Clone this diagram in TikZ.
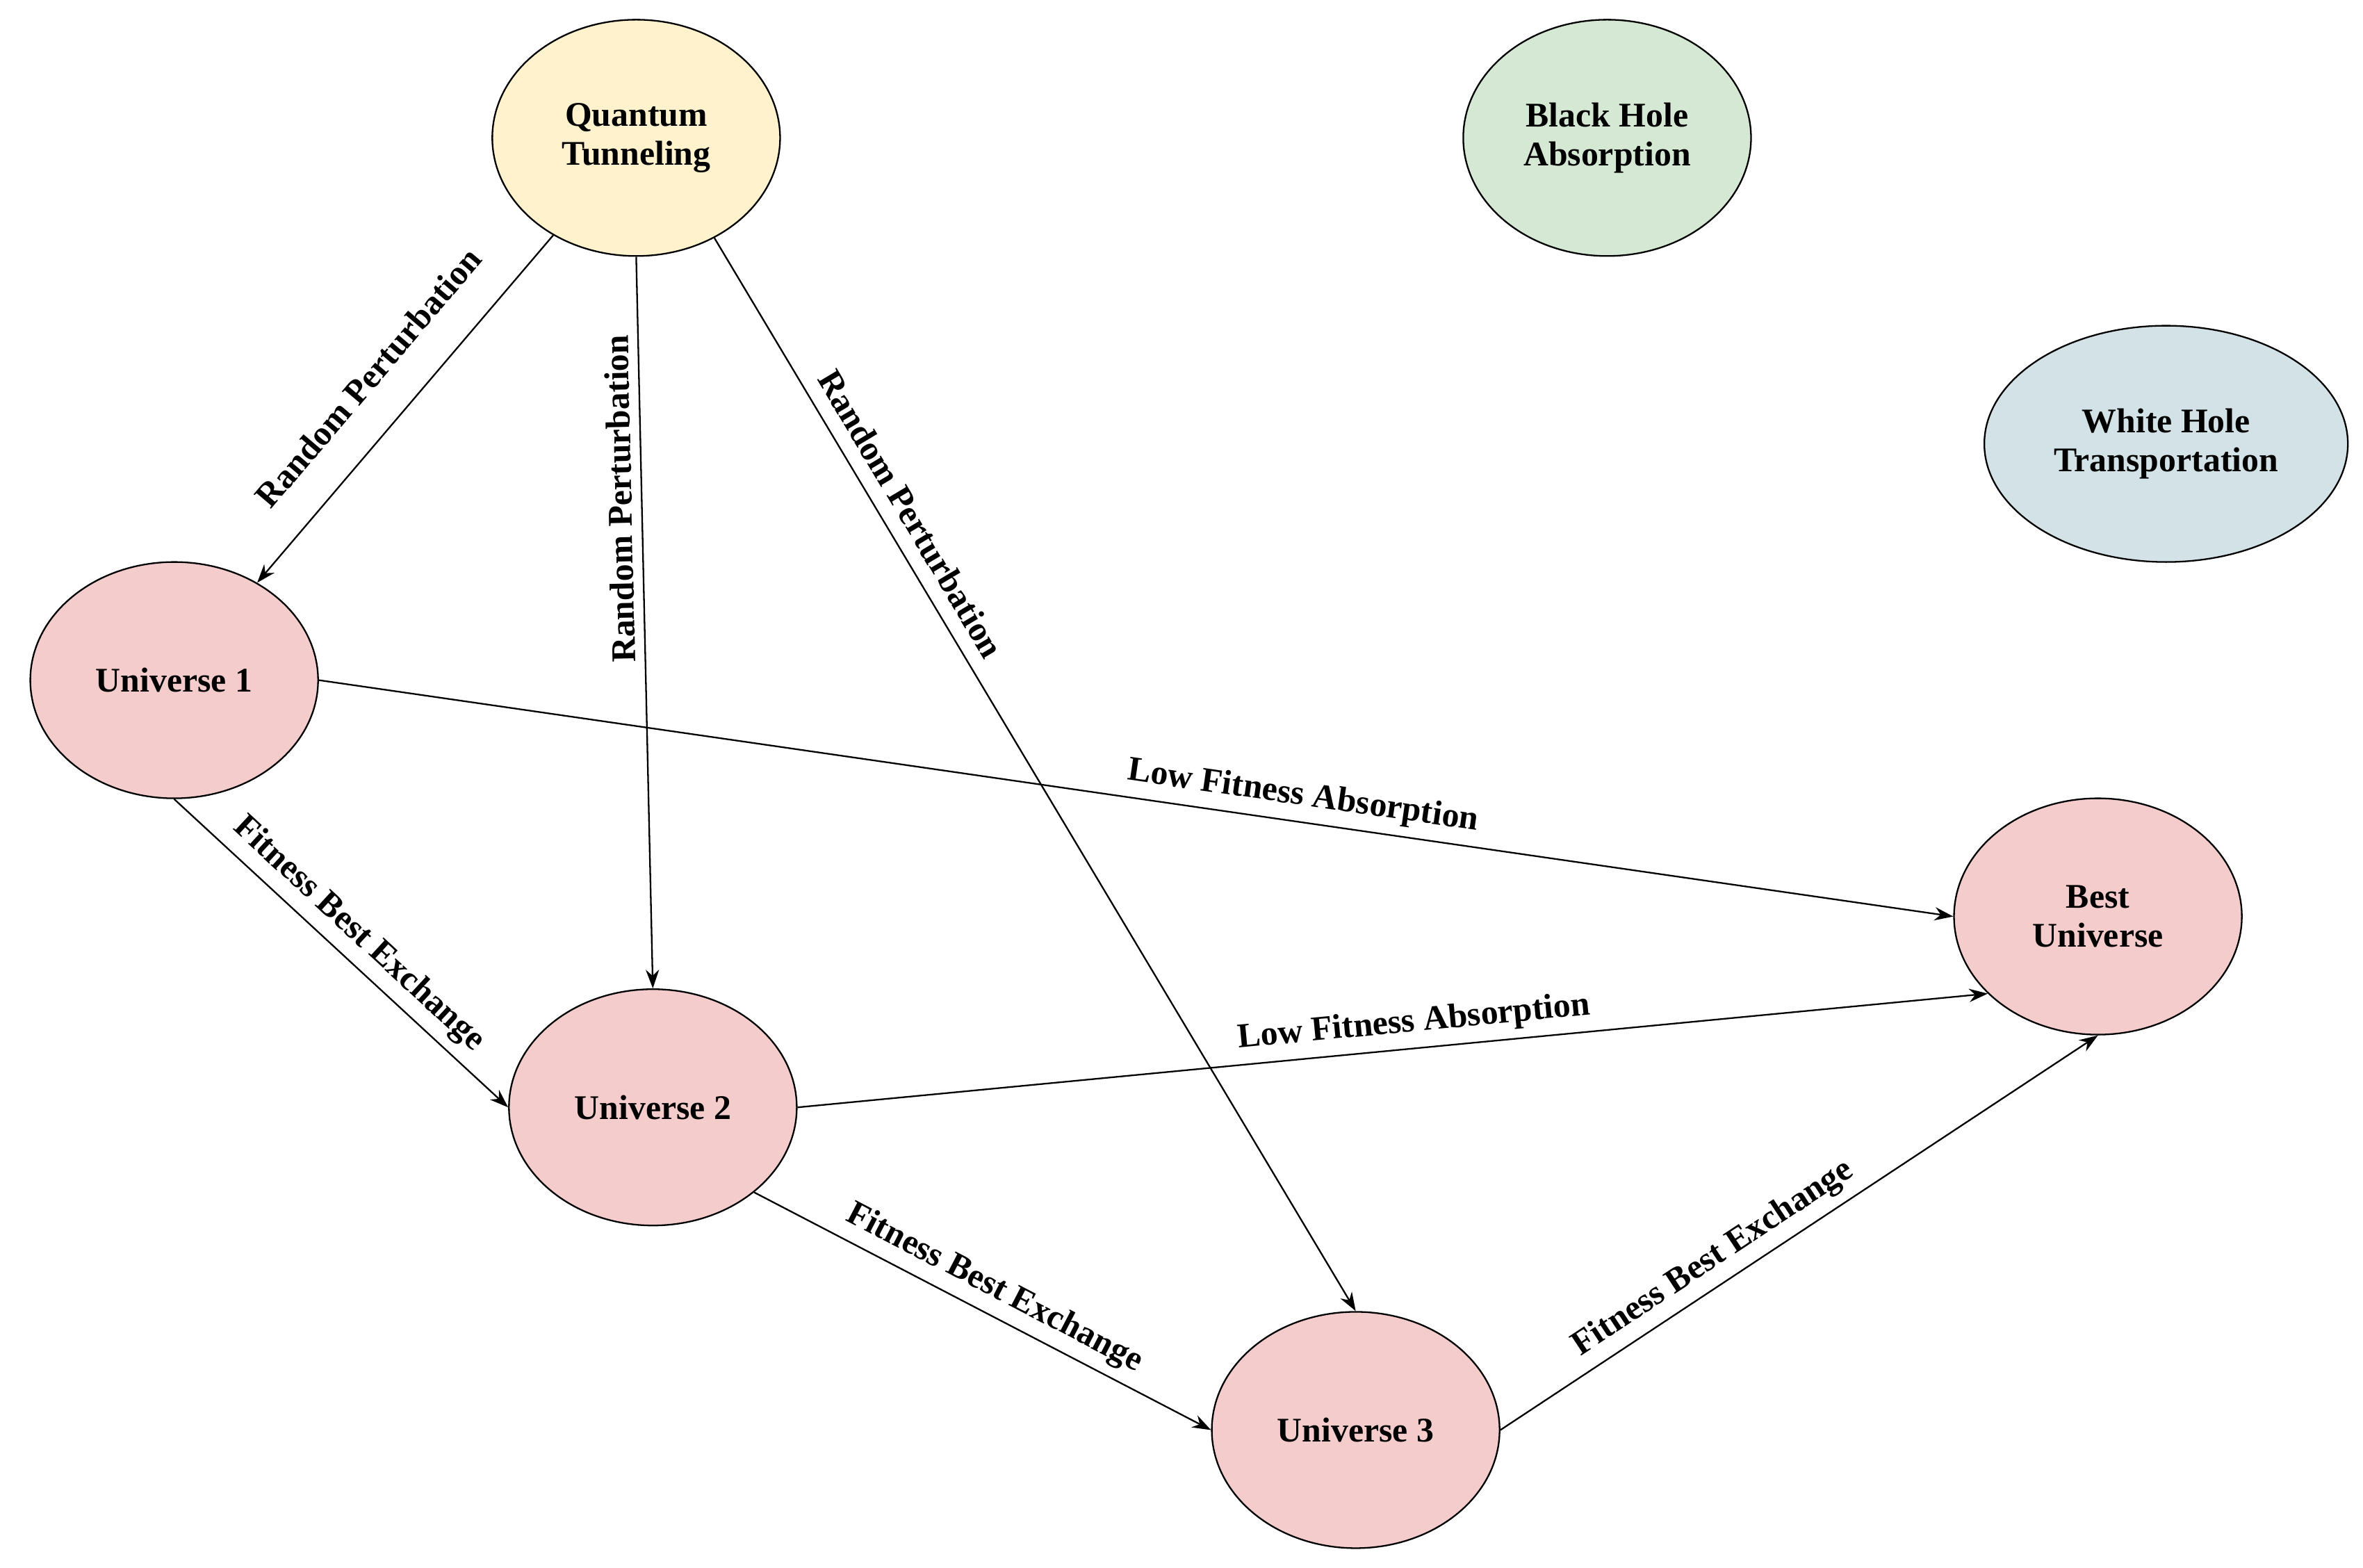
\documentclass[tikz,border=0pt]{standalone}
\usepackage{fontspec}
\setmainfont{Liberation Serif}
\usetikzlibrary{shapes.geometric,arrows.meta}
\begin{document}
\begin{tikzpicture}[x=0.02cm,y=-0.02cm,
  st/.style={ellipse,draw=black,line width=0.6pt,minimum width=190*0.02cm,minimum height=156*0.02cm,align=center,font=\bfseries\fontsize{13}{14.5}\selectfont,inner sep=0pt},
  e/.style={draw,line width=0.6pt,-{Stealth[length=7pt,width=5pt]}},
  lb/.style={font=\bfseries\fontsize{13}{14.5}\selectfont,sloped}]
\useasboundingbox (0,0) rectangle (1560,1035);
\definecolor{cy}{HTML}{FFF2CC}\definecolor{cg}{HTML}{D5E8D4}
\definecolor{cb}{HTML}{D3E2E6}\definecolor{cp}{HTML}{F4CCCC}
\node[st,fill=cy] (QT) at (420,91) {Quantum\\Tunneling};
\node[st,fill=cg] (BH) at (1061,91) {Black Hole\\Absorption};
\node[st,fill=cb,minimum width=240*0.02cm] (WH) at (1430,293) {White Hole\\Transportation};
\node[st,fill=cp] (U1) at (115,449) {Universe 1};
\node[st,fill=cp] (U2) at (431,731) {Universe 2};
\node[st,fill=cp] (U3) at (895,944) {Universe 3};
\node[st,fill=cp] (BU) at (1385,605) {Best\\Universe};
\draw[e] (QT) -- (U1) node[lb,pos=0.5,above=10pt] {Random Perturbation};
\draw[e] (QT.south) -- (U2.north) node[lb,pos=0.33,above,rotate=180] {Random Perturbation};
\draw[e] (QT.-52) -- (U3.north) node[lb,pos=0.27,above=2pt] {Random Perturbation};
\draw[e] (U1.east) -- (BU.west) node[lb,pos=0.6,above] {Low Fitness Absorption};
\draw[e] (U2.east) -- (BU.-145) node[lb,pos=0.52,above] {Low Fitness Absorption};
\draw[e] (U1.south) -- (U2.west) node[lb,midway,above] {Fitness Best Exchange};
\draw[e] (U2.-40) -- (U3.west) node[lb,midway,above] {Fitness Best Exchange};
\draw[e] (U3.east) -- (BU.south) node[lb,pos=0.38,above] {Fitness Best Exchange};
\end{tikzpicture}
\end{document}
